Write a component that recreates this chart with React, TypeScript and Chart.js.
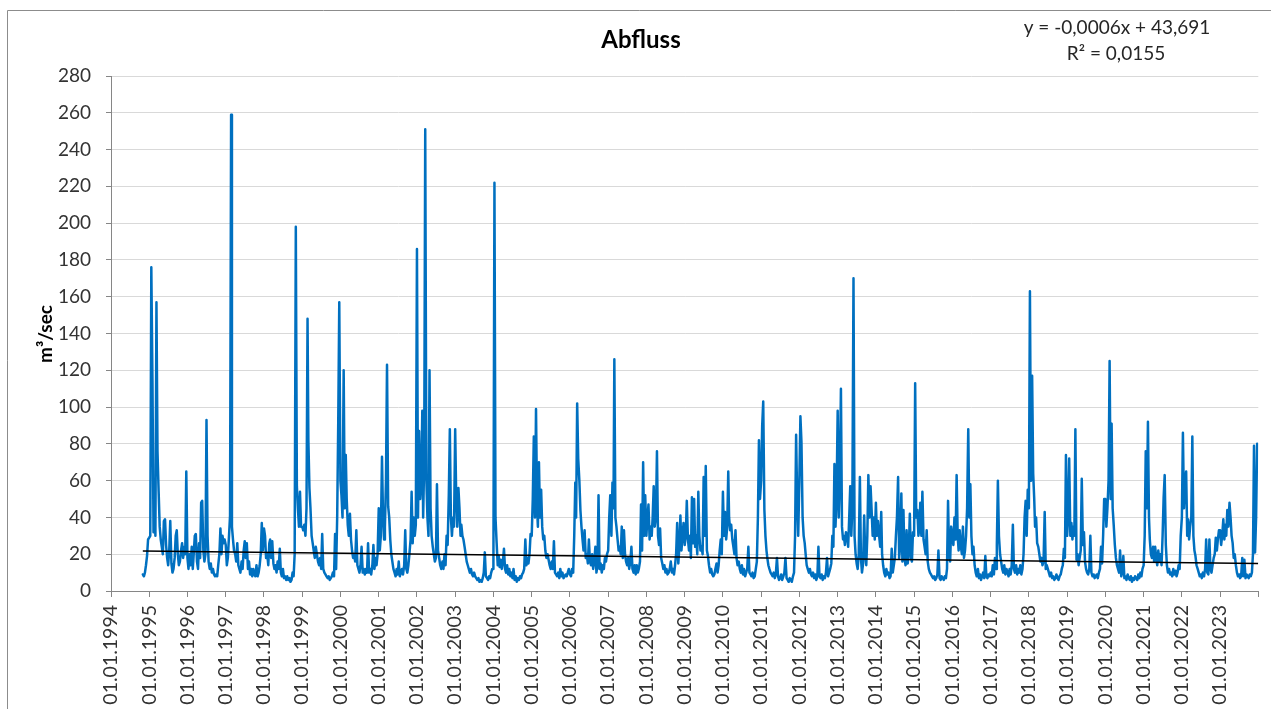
import React, { useEffect, useRef } from "react";
import { Chart, registerables } from "chart.js";

Chart.register(...registerables);

// ---- data: daily discharge sampled on the 1st, 11th and 21st of each month ----
const firstYear = 1994;
const firstSlot = 30; // series starts 1 Nov 1994
const slotDays = [1, 11, 21];

const q1994 = [9, 8, 10, 14, 19, 28];
const q1995 = [29, 30, 176, 114, 32, 57, 30, 157, 76, 54, 35, 28, 24, 20, 38, 39, 25, 18, 14, 22, 38, 15, 10, 12, 18, 30, 33, 20, 14, 16, 22, 26, 18, 24, 20, 65];
const q1996 = [18, 12, 20, 14, 24, 12, 20, 30, 31, 16, 12, 26, 18, 48, 49, 22, 16, 20, 93, 30, 16, 12, 15, 10, 12, 9, 8, 9, 8, 14, 20, 34, 20, 30, 26, 28];
const q1997 = [25, 14, 18, 30, 41, 259, 35, 28, 22, 20, 16, 26, 14, 12, 10, 16, 12, 22, 27, 18, 26, 12, 16, 9, 12, 8, 12, 9, 8, 14, 8, 10, 14, 20, 37, 22];
const q1998 = [34, 30, 18, 20, 14, 26, 28, 18, 27, 15, 12, 14, 10, 16, 12, 23, 10, 8, 12, 7, 8, 6, 8, 6, 7, 5, 6, 10, 8, 20, 198, 57, 45, 35, 54, 35];
const q1999 = [35, 33, 36, 30, 45, 148, 82, 56, 45, 30, 26, 22, 18, 24, 20, 16, 14, 18, 12, 31, 12, 10, 9, 8, 7, 8, 6, 7, 8, 10, 8, 31, 12, 40, 91, 157];
const q2000 = [60, 52, 40, 120, 45, 74, 50, 36, 30, 42, 28, 22, 18, 20, 16, 33, 14, 12, 10, 14, 24, 10, 12, 9, 12, 10, 26, 10, 12, 9, 14, 25, 12, 18, 14, 20];
const q2001 = [45, 22, 30, 73, 40, 28, 35, 60, 123, 46, 40, 28, 20, 16, 12, 10, 8, 12, 9, 16, 8, 10, 12, 9, 14, 33, 12, 10, 14, 20, 28, 54, 26, 40, 30, 36];
const q2002 = [186, 40, 87, 50, 60, 98, 40, 70, 251, 60, 40, 30, 120, 45, 30, 24, 20, 16, 18, 58, 22, 18, 14, 12, 16, 12, 20, 14, 30, 25, 52, 88, 40, 30, 40, 35];
const q2003 = [88, 50, 35, 56, 45, 30, 36, 30, 28, 24, 20, 16, 14, 12, 10, 12, 9, 8, 10, 8, 7, 6, 7, 5, 6, 5, 7, 10, 21, 8, 7, 6, 8, 7, 10, 12];
const q2004 = [12, 222, 40, 26, 14, 19, 13, 17, 12, 16, 23, 12, 10, 14, 9, 12, 8, 10, 7, 12, 6, 8, 5, 7, 6, 8, 7, 9, 10, 12, 28, 14, 18, 15, 20, 31];
const q2005 = [30, 50, 84, 40, 99, 45, 35, 70, 40, 55, 35, 28, 30, 22, 18, 20, 17, 14, 12, 16, 12, 27, 10, 9, 8, 10, 7, 12, 8, 10, 7, 8, 9, 8, 10, 12];
const q2006 = [9, 8, 12, 10, 30, 59, 40, 102, 72, 60, 44, 35, 28, 22, 33, 18, 20, 15, 28, 16, 14, 20, 12, 16, 24, 10, 14, 52, 12, 15, 10, 14, 12, 18, 16, 20];
const q2007 = [22, 40, 52, 30, 59, 45, 126, 40, 35, 28, 22, 24, 20, 35, 18, 33, 20, 16, 14, 18, 12, 16, 24, 12, 10, 14, 9, 14, 10, 12, 16, 47, 22, 70, 30, 52];
const q2008 = [30, 40, 47, 28, 35, 30, 40, 57, 35, 40, 76, 30, 25, 34, 18, 15, 12, 14, 10, 12, 9, 10, 12, 16, 10, 12, 9, 14, 20, 37, 15, 24, 41, 22, 30, 37];
const q2009 = [25, 30, 49, 28, 22, 30, 18, 51, 26, 50, 24, 30, 20, 54, 30, 22, 24, 20, 62, 30, 68, 22, 19, 14, 10, 12, 9, 8, 9, 12, 15, 10, 14, 22, 28, 20];
const q2010 = [54, 30, 43, 28, 35, 65, 40, 33, 36, 28, 24, 20, 33, 18, 14, 16, 12, 10, 14, 9, 12, 8, 10, 12, 24, 10, 9, 8, 10, 7, 8, 12, 16, 40, 82, 50];
const q2011 = [60, 90, 103, 44, 30, 22, 18, 14, 12, 10, 9, 8, 10, 7, 9, 18, 8, 6, 7, 9, 6, 8, 10, 18, 7, 6, 5, 7, 6, 5, 8, 10, 30, 85, 50, 30];
const q2012 = [60, 95, 81, 40, 30, 26, 20, 14, 12, 10, 12, 9, 8, 10, 7, 9, 6, 8, 24, 8, 7, 9, 6, 8, 7, 10, 18, 8, 10, 12, 15, 30, 24, 69, 35, 50];
const q2013 = [98, 40, 60, 110, 35, 28, 30, 25, 32, 30, 24, 40, 57, 30, 45, 170, 30, 20, 15, 12, 20, 62, 18, 10, 15, 41, 20, 14, 30, 63, 40, 57, 44, 30, 40, 28];
const q2014 = [48, 30, 38, 30, 24, 43, 20, 14, 10, 8, 12, 9, 10, 7, 8, 23, 10, 14, 18, 30, 40, 62, 18, 24, 53, 16, 44, 18, 14, 33, 15, 22, 42, 18, 16, 32];
const q2015 = [30, 113, 40, 44, 30, 35, 48, 30, 54, 28, 24, 20, 33, 16, 12, 10, 9, 8, 7, 8, 6, 7, 9, 22, 7, 6, 8, 7, 6, 8, 7, 12, 49, 20, 16, 35];
const q2016 = [30, 25, 40, 28, 63, 30, 22, 33, 25, 20, 35, 18, 22, 30, 45, 88, 40, 58, 30, 20, 24, 14, 10, 8, 12, 7, 9, 6, 8, 10, 7, 19, 8, 7, 9, 8];
const q2017 = [10, 8, 14, 9, 18, 12, 25, 60, 30, 20, 16, 12, 10, 14, 9, 12, 10, 8, 12, 9, 14, 36, 12, 10, 14, 9, 12, 10, 14, 9, 12, 20, 40, 49, 30, 55];
const q2018 = [45, 163, 60, 117, 64, 50, 35, 40, 26, 24, 20, 16, 18, 14, 16, 43, 12, 14, 12, 10, 8, 10, 7, 8, 6, 7, 9, 7, 6, 8, 9, 12, 14, 23, 18, 74];
const q2019 = [30, 40, 72, 30, 37, 28, 35, 30, 88, 17, 20, 14, 18, 22, 61, 25, 32, 16, 12, 10, 9, 12, 30, 10, 8, 9, 7, 8, 9, 7, 10, 12, 24, 15, 30, 50];
const q2020 = [50, 35, 45, 60, 125, 50, 91, 45, 36, 25, 18, 14, 12, 10, 22, 8, 10, 19, 7, 8, 6, 9, 7, 6, 8, 5, 7, 6, 8, 7, 6, 9, 7, 10, 8, 12];
const q2021 = [14, 30, 76, 45, 92, 40, 28, 20, 18, 24, 16, 24, 18, 14, 22, 16, 20, 14, 30, 51, 63, 25, 14, 10, 12, 9, 10, 8, 12, 9, 11, 8, 10, 14, 12, 30];
const q2022 = [40, 86, 45, 60, 65, 30, 39, 28, 35, 40, 84, 30, 22, 19, 14, 12, 10, 8, 9, 7, 10, 8, 12, 28, 10, 9, 28, 12, 10, 14, 18, 20, 29, 22, 28, 33];
const q2023 = [33, 25, 30, 39, 28, 36, 30, 44, 35, 48, 40, 30, 26, 18, 20, 14, 10, 8, 9, 7, 8, 18, 8, 17, 7, 9, 8, 7, 9, 8, 10, 20, 79, 21, 40, 80];

const yearSeries = [q1994, q1995, q1996, q1997, q1998, q1999, q2000, q2001, q2002, q2003, q2004, q2005, q2006, q2007, q2008, q2009, q2010, q2011, q2012, q2013, q2014, q2015, q2016, q2017, q2018, q2019, q2020, q2021, q2022, q2023];

// linear trend (Excel trendline) read at the start and end of the series
const trendValues = [21.7, 14.9];

// axis
const axisYears = [1994, 1995, 1996, 1997, 1998, 1999, 2000, 2001, 2002, 2003, 2004, 2005, 2006, 2007, 2008, 2009, 2010, 2011, 2012, 2013, 2014, 2015, 2016, 2017, 2018, 2019, 2020, 2021, 2022, 2023];
const axisEndYear = 2024;
const yMin = 0;
const yMax = 280;
const yStep = 20;

const titleText = "Abfluss";
const yTitleText = "m³/sec";
const equationLines = ["y = -0,0006x + 43,691", "R² = 0,0155"];

const FONT = "Lato, 'Open Sans', sans-serif";
const TEXT = "#333333";

const dayNum = (y: number, m: number, d: number) => Date.UTC(y, m, d) / 86400000;

function buildPoints() {
  const pts: { x: number; y: number }[] = [];
  yearSeries.forEach((arr, yi) => {
    const year = firstYear + yi;
    const off = yi === 0 ? firstSlot : 0;
    arr.forEach((v, i) => {
      const s = i + off;
      pts.push({ x: dayNum(year, Math.floor(s / 3), slotDays[s % 3]), y: v });
    });
  });
  return pts;
}

export default function App() {
  const ref = useRef<HTMLCanvasElement | null>(null);

  useEffect(() => {
    if (!ref.current) return;
    const points = buildPoints();
    const trend = [
      { x: points[0].x, y: trendValues[0] },
      { x: dayNum(2023, 11, 31), y: trendValues[1] },
    ];
    const tickDays = [...axisYears, axisEndYear].map((y) => dayNum(y, 0, 1));

    const overlay = {
      id: "overlay",
      afterDraw(chart: any) {
        const ctx = chart.ctx as CanvasRenderingContext2D;
        ctx.save();
        // outer chart frame (left and top edges visible)
        ctx.strokeStyle = "#8c8c8c";
        ctx.lineWidth = 1;
        ctx.beginPath();
        ctx.moveTo(7.5, 720);
        ctx.lineTo(7.5, 10.5);
        ctx.lineTo(1271, 10.5);
        ctx.stroke();
        // title
        ctx.fillStyle = "#000";
        ctx.textAlign = "center";
        ctx.textBaseline = "middle";
        ctx.font = `bold 24px ${FONT}`;
        ctx.fillText(titleText, 641, 40);
        // equation
        ctx.font = `19px ${FONT}`;
        ctx.fillStyle = "#262626";
        ctx.fillText(equationLines[0], 1117, 28);
        ctx.fillText(equationLines[1], 1116, 54);
        // y axis title
        ctx.translate(46, 334);
        ctx.rotate(-Math.PI / 2);
        ctx.font = `bold 19px ${FONT}`;
        ctx.fillStyle = "#000";
        ctx.fillText(yTitleText, 0, 0);
        ctx.restore();
      },
    };

    const chart = new Chart(ref.current, {
      type: "line",
      data: {
        datasets: [
          {
            data: trend,
            borderColor: "#000000",
            borderWidth: 1.5,
            pointRadius: 0,
            order: 0,
          },
          {
            data: points,
            borderColor: "#0070C0",
            borderWidth: 2.5,
            pointRadius: 0,
            tension: 0,
            borderJoinStyle: "round",
            borderCapStyle: "round",
            order: 1,
          },
        ],
      },
      options: {
        animation: false,
        responsive: false,
        devicePixelRatio: 1,
        parsing: false,
        normalized: true,
        layout: { padding: { top: 76, right: 12.7, left: 0, bottom: 0 } },
        plugins: {
          legend: { display: false },
          tooltip: { enabled: false },
          title: { display: false },
        },
        scales: {
          x: {
            type: "linear",
            min: dayNum(1994, 0, 1),
            max: dayNum(axisEndYear, 0, 1),
            afterBuildTicks: (s: any) => {
              s.ticks = tickDays.map((v) => ({ value: v }));
            },
            afterFit: (s: any) => {
              s.height = 118;
              s.paddingLeft = 0;
              s.paddingRight = 0;
            },
            ticks: {
              autoSkip: false,
              minRotation: 90,
              maxRotation: 90,
              padding: 8,
              color: TEXT,
              font: { family: FONT, size: 19.5 },
              callback: (_v: any, i: number) =>
                i < axisYears.length ? `01.01.${axisYears[i]}` : "",
            },
            grid: {
              drawOnChartArea: false,
              drawTicks: true,
              tickLength: 6,
              tickColor: "#868686",
            },
            border: { color: "#868686", width: 1 },
          },
          y: {
            min: yMin,
            max: yMax,
            afterFit: (s: any) => {
              s.width = 111;
              s.paddingTop = 0;
              s.paddingBottom = 0;
            },
            ticks: {
              stepSize: yStep,
              padding: 15,
              color: TEXT,
              font: { family: FONT, size: 19 },
            },
            grid: { color: "#D9D9D9", tickColor: "#868686", tickLength: 5 },
            border: { color: "#868686", width: 1 },
          },
        },
      },
      plugins: [overlay],
    } as any);

    return () => chart.destroy();
  }, []);

  return (
    <div style={{ position: "fixed", left: 0, top: 0, width: 1271, height: 709, background: "#fff" }}>
      <canvas ref={ref} width={1271} height={709} style={{ width: 1271, height: 709, display: "block" }} />
    </div>
  );
}
